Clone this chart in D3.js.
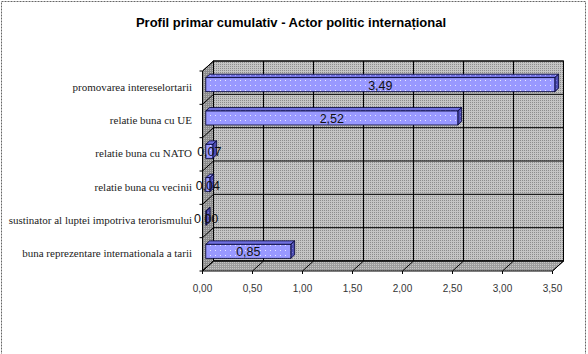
<!DOCTYPE html>
<html>
<head>
<meta charset="utf-8">
<script src="https://cdn.jsdelivr.net/npm/d3@7"></script>
<style>
  body { margin: 0; background: #fff; }
  svg { display: block; }
  .cat-label { font-family: "Liberation Serif", "Times New Roman", serif; font-size: 11px; fill: #222; }
  .tick-label { font-family: "Liberation Sans", Arial, sans-serif; font-size: 10px; fill: #333; }
  .val-label { font-family: "Liberation Sans", Arial, sans-serif; font-size: 12.5px; fill: #111; }
  .chart-title { font-family: "Liberation Sans", Arial, sans-serif; font-size: 13px; font-weight: bold; fill: #000; }
</style>
</head>
<body>
<svg id="chart" width="588" height="354"></svg>
<script>
// data
const categories = [
  "promovarea intereselortarii",
  "relatie buna cu UE",
  "relatie buna cu NATO",
  "relatie buna cu vecinii",
  "sustinator al luptei impotriva terorismului",
  "buna reprezentare internationala a tarii",
];
const values = [3.49, 2.52, 0.07, 0.04, 0.0, 0.85];
const tickValues = [0, 0.5, 1, 1.5, 2, 2.5, 3, 3.5];
const titleText = "Profil primar cumulativ - Actor politic internațional";

const svg = d3.select("svg#chart");
const width = +svg.attr("width");
const height = +svg.attr("height");

// front plane of the 3d box, plus depth vector towards the back wall
const front = { left: 202.5, right: 552.5, top: 71, bottom: 271 };
const depthX = 11;
const depthY = -10;
const barFront = 0.3; // depth fraction of the bar front face
const barBack = 0.65;

const x = d3.scaleLinear().domain([0, 3.5]).range([front.left, front.right]);
const y = d3
  .scaleBand()
  .domain(categories)
  .range([front.top, front.bottom])
  .paddingInner(0)
  .paddingOuter(0);

const fmt = (v) => d3.format(".2f")(v).replace(".", ",");
const pts = (arr) => arr.map((p) => p.join(",")).join(" ");
const shift = (px, py, f) => [px + depthX * f, py + depthY * f];

// patterns
const defs = svg.append("defs");
function dotPattern(id, bg, dot, step) {
  const p = defs
    .append("pattern")
    .attr("id", id)
    .attr("width", step)
    .attr("height", step)
    .attr("patternUnits", "userSpaceOnUse");
  p.append("rect").attr("width", step).attr("height", step).attr("fill", bg);
  p.append("rect").attr("width", 1).attr("height", 1).attr("fill", dot);
}
dotPattern("wallPat", "#c4c4c4", "#8c8c8c", 2);
dotPattern("sidePat", "#8a8a8a", "#b8b8b8", 2);
dotPattern("floorPat", "#9c9c9c", "#c8c8c8", 2);
dotPattern("barPat", "#9999ff", "#e8e8ff", 5);
dotPattern("barTopPat", "#7070e0", "#b0b0ff", 5);
dotPattern("barSidePat", "#4d4db3", "#7a7acc", 4);

// outer border
svg
  .append("rect")
  .attr("x", 1.5)
  .attr("y", 1.5)
  .attr("width", 584)
  .attr("height", height + 10)
  .attr("fill", "none")
  .attr("stroke", "#666")
  .attr("stroke-dasharray", "2,1");

// title
svg
  .append("text")
  .attr("class", "chart-title")
  .attr("x", 291)
  .attr("y", 22)
  .attr("text-anchor", "middle")
  .attr("dominant-baseline", "central")
  .text(titleText);

const box = svg.append("g").attr("id", "box");

// back wall
const backL = front.left + depthX;
const backR = front.right + depthX;
const backT = front.top + depthY;
const backB = front.bottom + depthY;
box
  .append("rect")
  .attr("x", backL)
  .attr("y", backT)
  .attr("width", backR - backL)
  .attr("height", backB - backT)
  .attr("fill", "url(#wallPat)")
  .attr("stroke", "#000")
  .attr("stroke-width", 1);

// left side wall
box
  .append("polygon")
  .attr(
    "points",
    pts([
      [front.left, front.top],
      [backL, backT],
      [backL, backB],
      [front.left, front.bottom],
    ])
  )
  .attr("fill", "url(#sidePat)")
  .attr("stroke", "#000")
  .attr("stroke-width", 1);

// floor
box
  .append("polygon")
  .attr(
    "points",
    pts([
      [backL, backB],
      [backR, backB],
      [front.right, front.bottom],
      [front.left, front.bottom],
    ])
  )
  .attr("fill", "url(#floorPat)")
  .attr("stroke", "#000")
  .attr("stroke-width", 1);

// vertical gridlines on back wall and floor
tickValues.forEach((t) => {
  const fx = x(t);
  box
    .append("line")
    .attr("x1", fx + depthX)
    .attr("x2", fx + depthX)
    .attr("y1", backT)
    .attr("y2", backB)
    .attr("stroke", "#000");
  box
    .append("line")
    .attr("x1", fx + depthX)
    .attr("y1", backB)
    .attr("x2", fx)
    .attr("y2", front.bottom)
    .attr("stroke", "#000");
  box
    .append("line")
    .attr("x1", fx)
    .attr("x2", fx)
    .attr("y1", front.bottom)
    .attr("y2", front.bottom + 3)
    .attr("stroke", "#000");
});

// horizontal gridlines on back wall and side wall
const boundaries = categories.map((c) => y(c)).concat([front.bottom]);
boundaries.forEach((b) => {
  box
    .append("line")
    .attr("x1", backL)
    .attr("x2", backR)
    .attr("y1", b + depthY)
    .attr("y2", b + depthY)
    .attr("stroke", "#000");
  box
    .append("line")
    .attr("x1", backL)
    .attr("y1", b + depthY)
    .attr("x2", front.left)
    .attr("y2", b)
    .attr("stroke", "#000");
  box
    .append("line")
    .attr("x1", front.left - 3)
    .attr("x2", front.left)
    .attr("y1", b)
    .attr("y2", b)
    .attr("stroke", "#000");
});

// bars as 3d boxes
const barH = 14;
const bars = box.append("g").attr("id", "bars");
categories.forEach((c, i) => {
  const cy = y(c) + y.bandwidth() / 2;
  const [x0, y0] = shift(x(0), cy - barH / 2, barFront);
  const [x1] = shift(x(values[i]), cy, barFront);
  const w = Math.max(x1 - x0, 0.5);
  const dxB = depthX * (barBack - barFront);
  const dyB = depthY * (barBack - barFront);
  const g = bars.append("g");
  // top face
  g.append("polygon")
    .attr(
      "points",
      pts([
        [x0, y0],
        [x0 + dxB, y0 + dyB],
        [x0 + w + dxB, y0 + dyB],
        [x0 + w, y0],
      ])
    )
    .attr("fill", "url(#barTopPat)")
    .attr("stroke", "#000033")
    .attr("stroke-width", 0.8);
  // right side face
  g.append("polygon")
    .attr(
      "points",
      pts([
        [x0 + w, y0],
        [x0 + w + dxB, y0 + dyB],
        [x0 + w + dxB, y0 + barH + dyB],
        [x0 + w, y0 + barH],
      ])
    )
    .attr("fill", "url(#barSidePat)")
    .attr("stroke", "#000033")
    .attr("stroke-width", 0.8);
  // front face
  g.append("rect")
    .attr("x", x0)
    .attr("y", y0)
    .attr("width", w)
    .attr("height", barH)
    .attr("fill", "url(#barPat)")
    .attr("stroke", "#000033")
    .attr("stroke-width", 0.8);
  // value label
  svg
    .append("text")
    .attr("class", "val-label")
    .attr("x", x0 + w / 2)
    .attr("y", y0 + barH / 2 + 1)
    .attr("text-anchor", "middle")
    .attr("dominant-baseline", "central")
    .text(fmt(values[i]));
});

// category labels
svg
  .append("g")
  .selectAll("text")
  .data(categories)
  .join("text")
  .attr("class", "cat-label")
  .attr("x", 192)
  .attr("y", (d) => y(d) + y.bandwidth() / 2 - 1)
  .attr("text-anchor", "end")
  .attr("dominant-baseline", "central")
  .text((d) => d);

// value axis tick labels
svg
  .append("g")
  .selectAll("text")
  .data(tickValues)
  .join("text")
  .attr("class", "tick-label")
  .attr("x", (d) => x(d))
  .attr("y", 288)
  .attr("text-anchor", "middle")
  .attr("dominant-baseline", "central")
  .text((d) => fmt(d));
</script>
</body>
</html>
